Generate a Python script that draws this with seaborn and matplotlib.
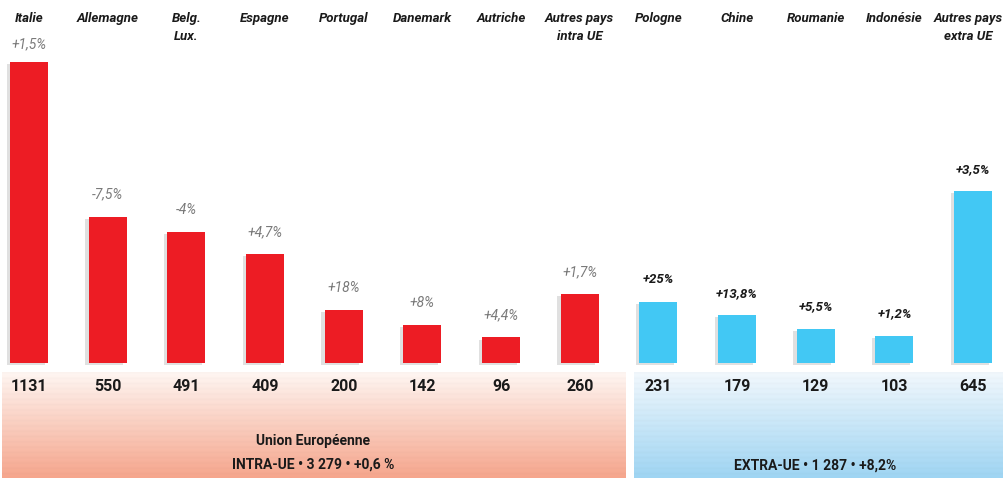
import numpy as np
import pandas as pd
import matplotlib.pyplot as plt
import matplotlib.patheffects as pe
import seaborn as sns

sns.set_theme(style="white")
plt.rcParams['font.family'] = ['Roboto', 'DejaVu Sans']

# === Data ===
pays = ["Italie", "Allemagne", "Belg.\nLux.", "Espagne", "Portugal", "Danemark", "Autriche",
        "Autres pays\nintra UE", "Pologne", "Chine", "Roumanie", "Indonésie", "Autres pays\nextra UE"]
valeurs = [1131, 550, 491, 409, 200, 142, 96, 260, 231, 179, 129, 103, 645]
variations = ["+1,5%", "-7,5%", "-4%", "+4,7%", "+18%", "+8%", "+4,4%", "+1,7%",
              "+25%", "+13,8%", "+5,5%", "+1,2%", "+3,5%"]
zone = ["intra"] * 8 + ["extra"] * 5

df = pd.DataFrame({"pays": pays, "valeur": valeurs, "variation": variations, "zone": zone})

ROUGE = "#ed1c24"
BLEU = "#42c8f4"

# === Figure ===
fig = plt.figure(figsize=(10.04, 4.78), dpi=100)
ax = fig.add_axes([0, 0, 1, 1])

sns.barplot(data=df, x="pays", y="valeur", hue="zone", order=pays,
            palette={"intra": ROUGE, "extra": BLEU}, width=0.483,
            dodge=False, legend=False, saturation=1, linewidth=0, ax=ax)

for p in ax.patches:
    p.set_path_effects([pe.SimplePatchShadow(offset=(-2.5, -1.5), shadow_rgbFace="#9a9a9a", alpha=0.3),
                        pe.Normal()])

ax.set_xlim(-0.3686, 12.393)
ax.set_ylim(-432, 1364)
ax.axis("off")

# conversion pixels (depuis le haut) -> données
px_unit = 363 / 1364
def ypix(y):
    return (363 - y) / px_unit

def xpix(x):
    return (x - 29) / 78.67

# Bandeaux en dégradé
def bandeau(x0, x1, c_top, c_bot):
    n = 60
    top = np.array(plt.matplotlib.colors.to_rgb(c_top))
    bot = np.array(plt.matplotlib.colors.to_rgb(c_bot))
    t = np.linspace(0, 1, n)[:, None]
    img = (top * (1 - t) + bot * t)[:, None, :]
    img[::3] *= 0.985  # stries légères
    ax.imshow(np.clip(img, 0, 1), extent=(xpix(x0), xpix(x1), ypix(478), ypix(372)),
              aspect="auto", zorder=0, interpolation="bilinear")

bandeau(2, 625, "#fff6f2", "#f6a68d")
bandeau(634, 1004, "#f2f8fd", "#9fd5f3")
ax.set_xlim(-0.3686, 12.393)
ax.set_ylim(-432, 1364)

# Noms des pays en haut
for i, nom in enumerate(pays):
    x = i
    if i == 12:
        x = xpix(968)
    ax.text(x, ypix(12), nom, ha="center", va="top", fontsize=9.5, fontweight="bold",
            fontstyle="italic", color="#1a1a1a", linespacing=1.45)

# Variations
for i, (v, var, z) in enumerate(zip(valeurs, variations, zone)):
    y = v + 22 / px_unit
    if i == 0:
        y = ypix(44)
    if z == "intra":
        ax.text(i, y, var, ha="center", va="center", fontsize=10, fontstyle="italic",
                fontweight="normal", color="#7a7a7a")
    else:
        ax.text(i, y, var, ha="center", va="center", fontsize=9.5, fontstyle="italic",
                fontweight="bold", color="#1a1a1a")

# Valeurs en bas
for i, v in enumerate(valeurs):
    ax.text(i, ypix(386), f"{v}", ha="center", va="center", fontsize=11.5,
            fontweight="bold", color="#1a1a1a")

# Totaux
ax.text(xpix(313), ypix(441), "Union Européenne", ha="center", va="center",
        fontsize=10, fontweight="bold", color="#1a1a1a")
ax.text(xpix(313), ypix(465), "INTRA-UE • 3 279 • +0,6 %", ha="center", va="center",
        fontsize=10, fontweight="bold", color="#1a1a1a")
ax.text(xpix(815), ypix(466), "EXTRA-UE • 1 287 • +8,2%", ha="center", va="center",
        fontsize=10, fontweight="bold", color="#1a1a1a")

fig.savefig("out.png", dpi=100)
